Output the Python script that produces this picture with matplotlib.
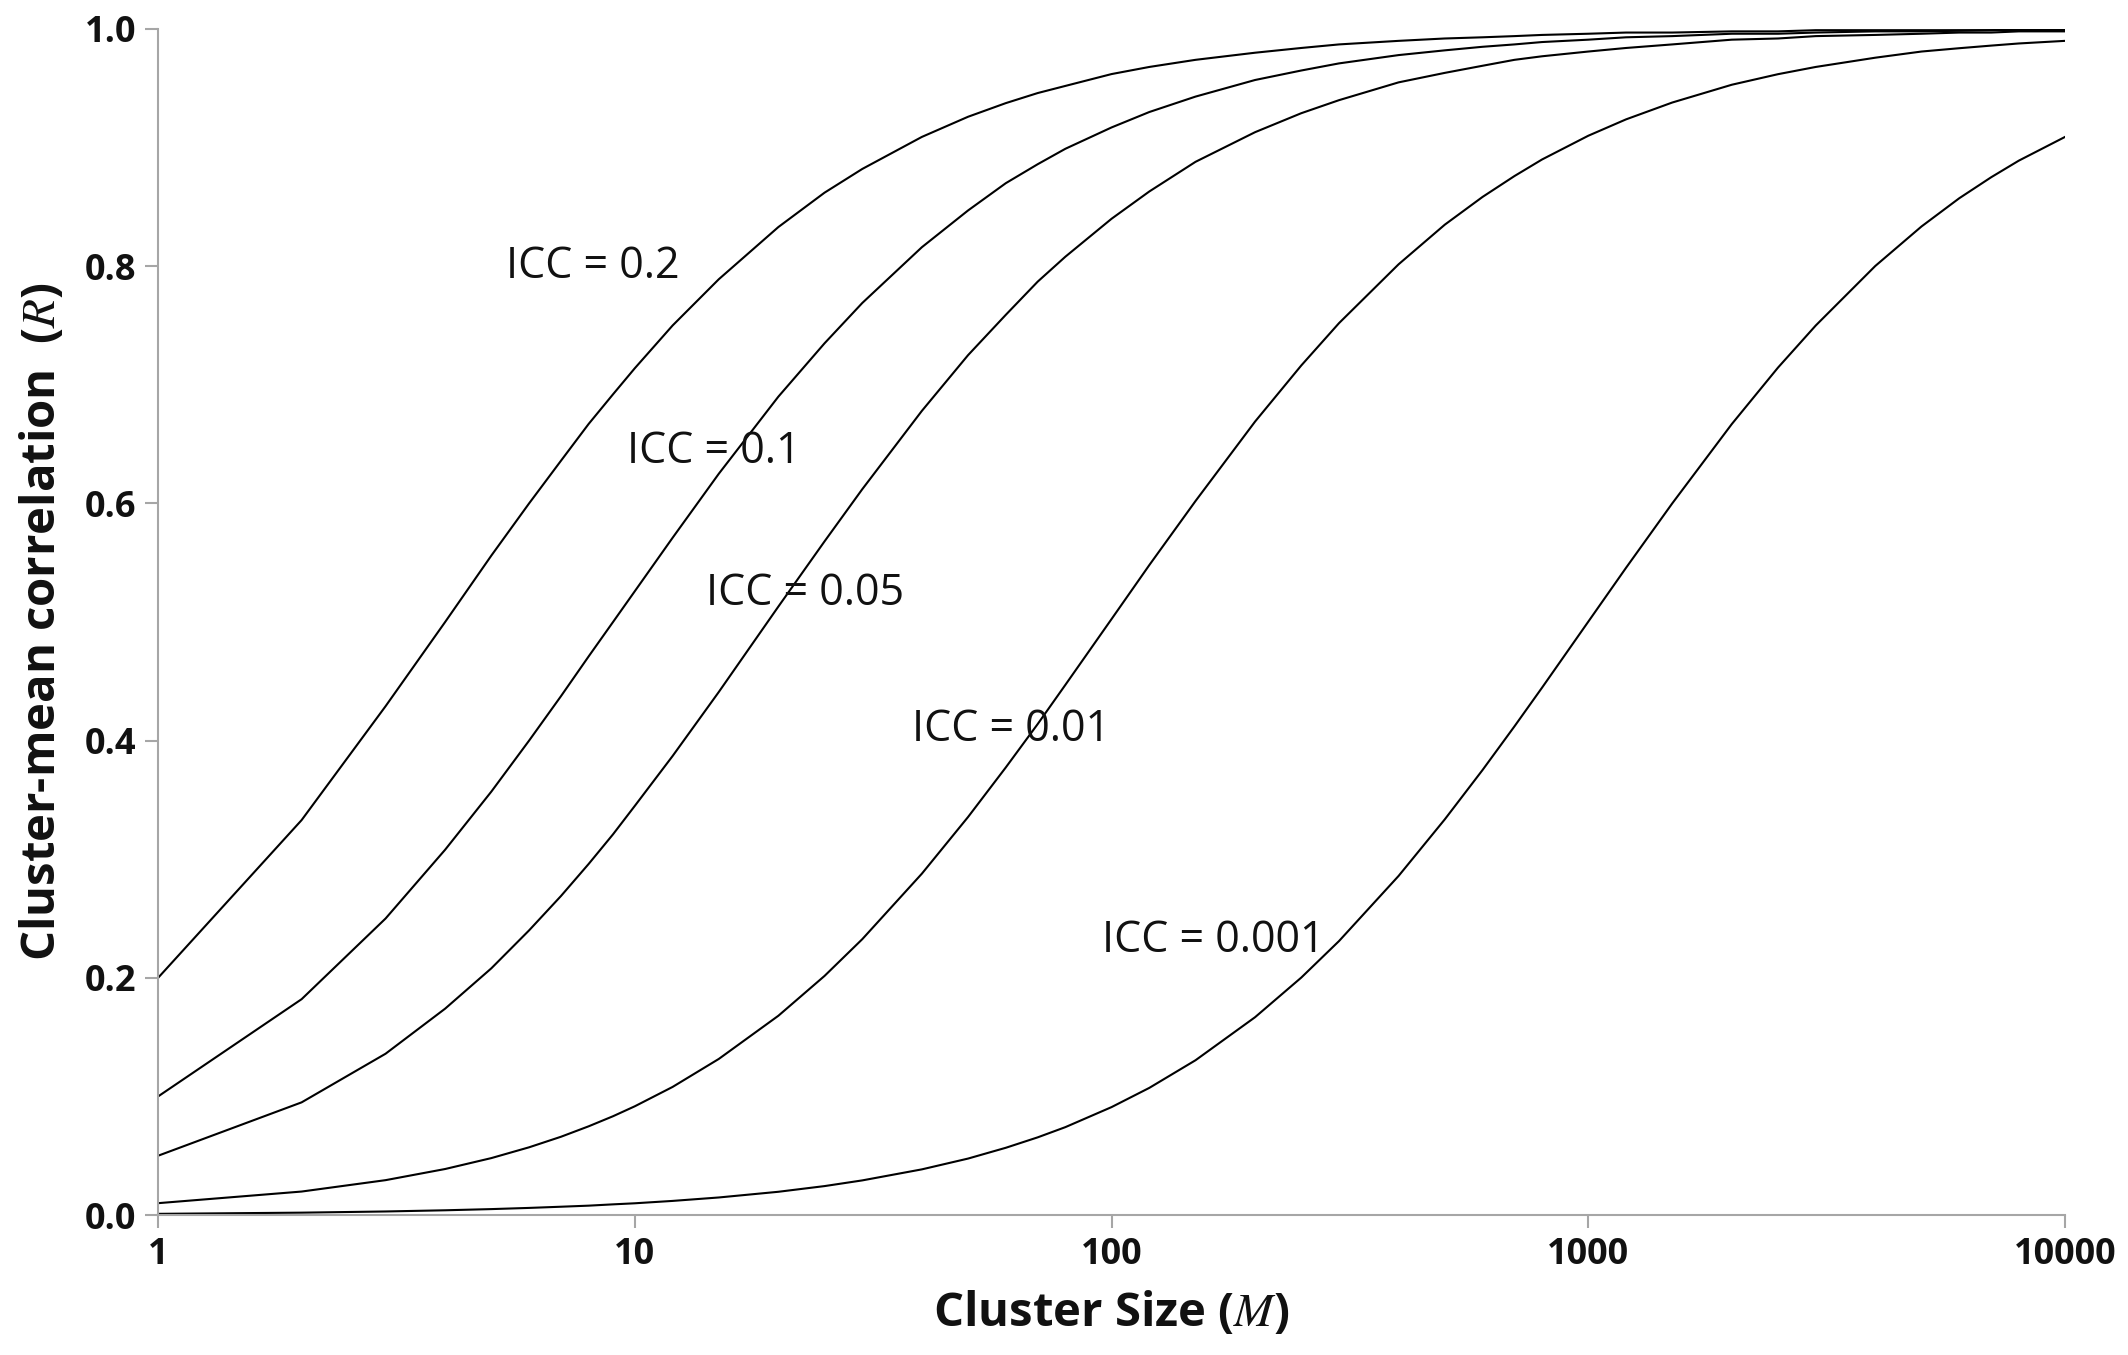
import matplotlib
matplotlib.use("Agg")
import matplotlib.pyplot as plt

plt.rcParams['font.family'] = ['Open Sans', 'DejaVu Sans']
plt.rcParams['mathtext.fontset'] = 'stix'

# Cluster size values (x)
cluster_size = [1, 2, 3, 4, 5, 6, 7, 8, 9, 10, 12, 15, 20, 25, 30, 40, 50, 60, 70, 80,
                100, 120, 150, 200, 250, 300, 400, 500, 600, 700, 800, 1000, 1200, 1500,
                2000, 2500, 3000, 4000, 5000, 6000, 7000, 8000, 10000]

# Cluster-mean correlation for each ICC curve
r_icc_0_2 = [0.200, 0.333, 0.429, 0.500, 0.556, 0.600, 0.636, 0.667, 0.692, 0.714,
             0.750, 0.789, 0.833, 0.862, 0.882, 0.909, 0.926, 0.9375, 0.946, 0.952,
             0.962, 0.968, 0.974, 0.980, 0.984, 0.987, 0.990, 0.992, 0.993, 0.994,
             0.995, 0.996, 0.997, 0.997, 0.998, 0.998, 0.999, 0.999, 0.999, 0.999,
             0.999, 1.000, 1.000]
r_icc_0_1 = [0.100, 0.182, 0.250, 0.308, 0.357, 0.400, 0.4375, 0.471, 0.500, 0.526,
             0.571, 0.625, 0.690, 0.735, 0.769, 0.816, 0.847, 0.870, 0.886, 0.899,
             0.917, 0.930, 0.943, 0.957, 0.965, 0.971, 0.978, 0.982, 0.985, 0.987,
             0.989, 0.991, 0.993, 0.994, 0.996, 0.996, 0.997, 0.998, 0.998, 0.9985,
             0.999, 0.999, 0.999]
r_icc_0_05 = [0.050, 0.095, 0.136, 0.174, 0.208, 0.240, 0.269, 0.296, 0.321, 0.345,
              0.387, 0.441, 0.513, 0.568, 0.612, 0.678, 0.725, 0.759, 0.787, 0.808,
              0.840, 0.863, 0.888, 0.913, 0.929, 0.940, 0.955, 0.963, 0.969, 0.974,
              0.977, 0.981, 0.984, 0.987, 0.991, 0.992, 0.994, 0.995, 0.996, 0.997,
              0.997, 0.998, 0.998]
r_icc_0_01 = [0.010, 0.0198, 0.0294, 0.0388, 0.048, 0.0571, 0.066, 0.0748, 0.0833, 0.0917,
              0.108, 0.1316, 0.168, 0.2016, 0.2326, 0.2878, 0.3356, 0.3774, 0.414, 0.447,
              0.5025, 0.548, 0.602, 0.669, 0.7163, 0.752, 0.8016, 0.835, 0.8584, 0.876,
              0.890, 0.910, 0.9238, 0.938, 0.953, 0.9619, 0.968, 0.9758, 0.981, 0.9838,
              0.986, 0.9878, 0.990]
r_icc_0_001 = [0.001, 0.002, 0.003, 0.004, 0.005, 0.006, 0.007, 0.0079, 0.009, 0.0099,
               0.0119, 0.0148, 0.0196, 0.0244, 0.0292, 0.0385, 0.0476, 0.0567, 0.0655, 0.0741,
               0.091, 0.1072, 0.1305, 0.1668, 0.2002, 0.231, 0.2859, 0.3336, 0.3752, 0.412,
               0.4447, 0.5003, 0.5457, 0.600, 0.6669, 0.7145, 0.750, 0.8002, 0.8335, 0.8573,
               0.875, 0.889, 0.909]

series = [r_icc_0_2, r_icc_0_1, r_icc_0_05, r_icc_0_01, r_icc_0_001]

labels = ["ICC = 0.2", "ICC = 0.1", "ICC = 0.05", "ICC = 0.01", "ICC = 0.001"]
label_x = [5.37, 9.63, 14.1, 38.2, 95.5]
label_y = [0.790, 0.634, 0.514, 0.400, 0.2218]

x_ticks = [1, 10, 100, 1000, 10000]
x_ticklabels = ["1", "10", "100", "1000", "10000"]
y_ticks = [0.0, 0.2, 0.4, 0.6, 0.8, 1.0]
y_ticklabels = ["0.0", "0.2", "0.4", "0.6", "0.8", "1.0"]

fig = plt.figure(figsize=(21.28, 13.55), dpi=100)
ax = fig.add_axes([0.0743, 0.1033, 0.9704 - 0.0743, 0.9786 - 0.1033])

for s in series:
    ax.plot(cluster_size, s, color='black', linewidth=1.5, solid_joinstyle='round')

for t, x, y in zip(labels, label_x, label_y):
    ax.text(x, y, t, fontsize=31, ha='left', va='baseline', color='#111111')

ax.set_xscale('log')
ax.set_xlim(1, 10000)
ax.set_ylim(0, 1)
ax.set_xticks(x_ticks)
ax.set_xticklabels(x_ticklabels)
ax.set_yticks(y_ticks)
ax.set_yticklabels(y_ticklabels)
ax.minorticks_off()

spine_color = '#a6a6a6'
for side in ['top', 'right']:
    ax.spines[side].set_visible(False)
for side in ['left', 'bottom']:
    ax.spines[side].set_color(spine_color)
    ax.spines[side].set_linewidth(1.5)

ax.tick_params(axis='both', which='major', direction='out', length=9.5, width=1.5,
               color=spine_color, labelsize=26, pad=6, labelcolor='#111111')
for lbl in ax.get_xticklabels() + ax.get_yticklabels():
    lbl.set_fontweight('bold')

ax.set_xlabel(r"Cluster Size ($M$)", fontsize=34, fontweight='bold', labelpad=12, color='#111111')
ax.set_ylabel(r"Cluster-mean correlation  ($R$)", fontsize=34, fontweight='bold', labelpad=14, color='#111111')

fig.savefig("out.png", dpi=100)
